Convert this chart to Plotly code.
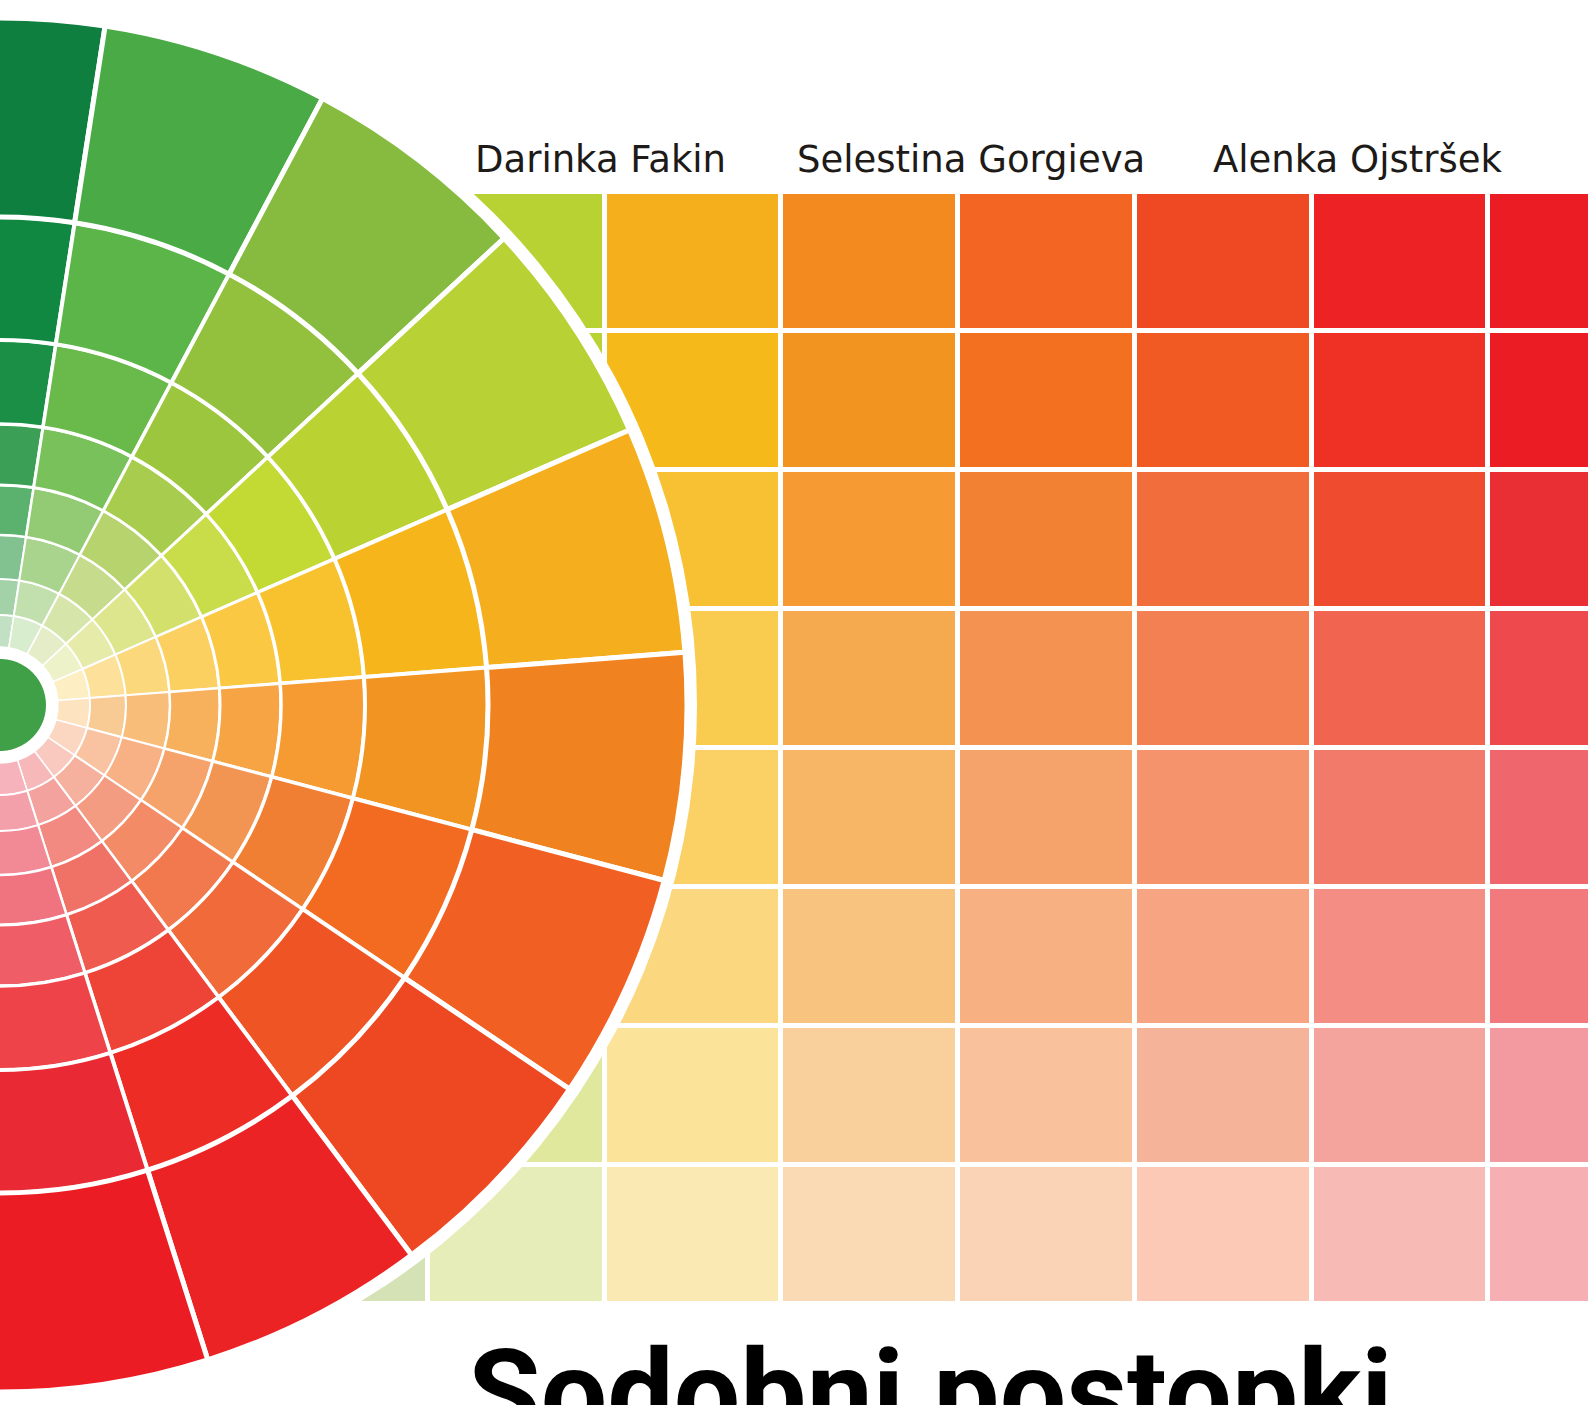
import plotly.graph_objects as go

W, H = 1588, 1405

# ---------------- data ----------------
# colour wheel: sector centre angles (deg), top -> bottom
sector_theta = [90.8, 71.6, 52.4, 33.2, 14.0, -5.2, -24.4, -43.6, -62.8, -82.0]
sector_width = 19.2
# ring boundaries (radius, px) inner -> outer
ring_edges = [58, 90, 126, 170, 220, 281, 365, 488, 687]
# colours per ring (inner -> outer), each over the sectors top -> bottom
ring1 = ["#c2e1c4", "#d8ecce", "#e4edc8", "#eef2c8", "#feeec4", "#fde3c0", "#fbd6c0", "#f9c9c0", "#f6b8b9", "#f6b3bb"]
ring2 = ["#a3d2a9", "#c2e0ae", "#d6e5aa", "#e6eba9", "#fde19a", "#f9cb94", "#f9c2a0", "#f6b09e", "#f4a29d", "#f4a0aa"]
ring3 = ["#82c290", "#a8d48e", "#c6dc8c", "#dde68c", "#fcd87d", "#f8bd78", "#f7b185", "#f49c82", "#f28a81", "#f28a96"]
ring4 = ["#5bb26e", "#92cb74", "#b7d36d", "#d3e06b", "#fbd061", "#f7b05c", "#f5a36a", "#f28b66", "#f07266", "#f07480"]
ring5 = ["#3c9f56", "#79c15b", "#a8cc4e", "#c9dc4a", "#fac843", "#f7a544", "#f39552", "#f1794d", "#ef5b4e", "#ef5e66"]
ring6 = ["#1a8f45", "#6ab94b", "#9cc63d", "#c3d934", "#f8c22f", "#f69a32", "#f07f34", "#f06a3a", "#ee4437", "#ee4449"]
ring7 = ["#118841", "#5cb548", "#93c13e", "#bad232", "#f6b51a", "#f19421", "#f26b21", "#ef5524", "#ed2c26", "#e92a34"]
ring8 = ["#0e7f3e", "#4aab46", "#86bb40", "#b8d135", "#f5ae1d", "#f0831f", "#f16022", "#ee4823", "#ec2325", "#ec1c24"]
wheel_rings = [ring1, ring2, ring3, ring4, ring5, ring6, ring7, ring8]
centre_disk = 46
centre_color = "#40a048"

# colour grid: rows top -> bottom, columns left -> right
grid_row1 = ["#4aab46", "#b9d233", "#f5ae1c", "#f28a20", "#f26522", "#ef4923", "#ec2225", "#ec1c24"]
grid_row2 = ["#5cb54a", "#b9d234", "#f6b91a", "#f29420", "#f37021", "#f15a22", "#ee3124", "#ec1c24"]
grid_row3 = ["#78c05a", "#c4d946", "#f8c133", "#f69b33", "#f28134", "#f16d3b", "#ef4b2f", "#e92e34"]
grid_row4 = ["#92cb74", "#cede66", "#f9cb4e", "#f6aa50", "#f49251", "#f38053", "#f06450", "#ee4a4d"]
grid_row5 = ["#a8d48e", "#d7e386", "#fbd064", "#f7b665", "#f5a26b", "#f5946c", "#f27a6b", "#ef666c"]
grid_row6 = ["#bcdca6", "#dde89c", "#fbd780", "#f8c37e", "#f7b082", "#f6a481", "#f48d83", "#f27a7c"]
grid_row7 = ["#cde5bb", "#e0e89e", "#fbe39a", "#f9cf9c", "#f9c19c", "#f5b499", "#f5a39d", "#f39aa0"]
grid_row8 = ["#d5e2b6", "#e6edb8", "#fbe9b4", "#fad9b5", "#fad3b7", "#fbc9b6", "#f8bab4", "#f6b0b4"]
grid_rows = [grid_row1, grid_row2, grid_row3, grid_row4, grid_row5, grid_row6, grid_row7, grid_row8]

authors = ["Darinka Fakin", "Selestina Gorgieva", "Alenka Ojstršek"]
title = "Sodobni postopki"

# ---------------- geometry ----------------
grid_x_edges = [252, 428, 605, 781, 958, 1135, 1312, 1488, 1665]
grid_y_edges = [192, 331, 470, 609, 748, 887, 1026, 1165, 1304]
wheel_R = 697          # px radius of the white disc behind the wheel
wheel_cy = 705         # px from top
ring_line_w = [1.5, 2, 2, 2.5, 3, 3.5, 4, 5]

fig = go.Figure()

# grid as heatmap with indexed colours
ncol = len(grid_row1)
flat = [c for row in grid_rows for c in row]
N = len(flat)
colorscale = [[i / (N - 1), c] for i, c in enumerate(flat)]
z = [[r * ncol + c for c in range(ncol)] for r in range(len(grid_rows))]
fig.add_trace(go.Heatmap(
    x=grid_x_edges, y=grid_y_edges, z=z,
    colorscale=colorscale, zmin=0, zmax=N - 1, showscale=False,
    xgap=5, ygap=5, hoverinfo="skip",
))

# wheel
fig.add_trace(go.Barpolar(
    theta=[0], r=[centre_disk], base=[0], width=[200],
    marker=dict(color=centre_color, line=dict(width=0)), hoverinfo="skip",
))
for i, colors in enumerate(wheel_rings):
    r0, r1 = ring_edges[i], ring_edges[i + 1]
    fig.add_trace(go.Barpolar(
        theta=sector_theta,
        r=[r1 - r0] * len(sector_theta),
        base=[r0] * len(sector_theta),
        width=[sector_width] * len(sector_theta),
        marker=dict(color=colors, line=dict(color="white", width=ring_line_w[i])),
        hoverinfo="skip",
    ))

fig.update_layout(
    width=W, height=H,
    margin=dict(l=0, r=0, t=0, b=0),
    paper_bgcolor="white", plot_bgcolor="white",
    showlegend=False,
    xaxis=dict(range=[0, W], visible=False, domain=[0, 1], fixedrange=True),
    yaxis=dict(range=[H, 0], visible=False, domain=[0, 1], fixedrange=True),
    polar=dict(
        domain=dict(x=[0, wheel_R / W], y=[(H - wheel_cy - wheel_R) / H, (H - wheel_cy + wheel_R) / H]),
        sector=[-90, 90],
        bgcolor="white",
        radialaxis=dict(range=[0, wheel_R], visible=False, showgrid=False),
        angularaxis=dict(visible=False, showgrid=False, rotation=0, direction="counterclockwise"),
        hole=0,
    ),
    barmode="overlay",
)

author_cx = [600, 971, 1357]
for name, cx in zip(authors, author_cx):
    fig.add_annotation(
        text=name, x=cx / W, y=(H - 160) / H, xref="paper", yref="paper",
        xanchor="center", yanchor="middle", showarrow=False,
        font=dict(family="DejaVu Sans, sans-serif", size=37, color="#1d1a18"),
    )

fig.add_annotation(
    text=title, x=466 / W, y=(H - 1394) / H, xref="paper", yref="paper",
    xanchor="left", yanchor="middle", showarrow=False,
    font=dict(family="Roboto, sans-serif", size=118, color="#000000", weight="bold"),
)

fig.write_html(
    "out.html",
    config={"displayModeBar": False},
    post_script="document.body.style.margin='0';document.body.style.overflow='hidden';",
)
